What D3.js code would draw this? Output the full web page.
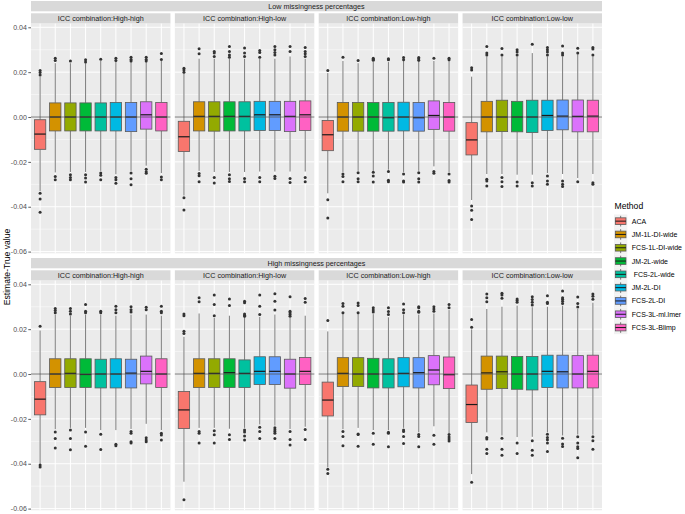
<!DOCTYPE html>
<html>
<head>
<meta charset="utf-8">
<script src="https://cdn.jsdelivr.net/npm/d3@7"></script>
<style>
  body { margin: 0; background: #fff; }
  text { font-family: "Liberation Sans", Arial, sans-serif; }
</style>
</head>
<body>
<div id="chart"></div>
<script>
// metodos y colores (paleta hue de ggplot)
const methods = ["ACA", "JM-1L-DI-wide", "FCS-1L-DI-wide", "JM-2L-wide", " FCS-2L-wide",
                 "JM-2L-DI", "FCS-2L-DI", "FCS-3L-ml.lmer", "FCS-3L-Blimp"]
const colours = ["#F8766D", "#D39200", "#93AA00", "#00BA38", "#00C19F",
                 "#00B9E3", "#619CFF", "#DB72FB", "#FF61C3"]

const rowLabels = ["Low missingness percentages", "High missingness percentages"]
const iccLabels = ["ICC combination:High-high", "ICC combination:High-low",
                   "ICC combination:Low-high", "ICC combination:Low-low"]
const yTicks = [-0.06, -0.04, -0.02, 0, 0.02, 0.04]
const yMinor = [-0.05, -0.03, -0.01, 0.01, 0.03]

// cajas: [bigote inf, q1, mediana, q3, bigote sup] por metodo
const lowHH = [[-0.033,-0.0144,-0.0076,-0.0012,0.018],[-0.0247,-0.0062,0,0.0063,0.024],[-0.0245,-0.0062,0,0.0063,0.024],
  [-0.0245,-0.0062,0,0.0063,0.024],[-0.024,-0.0062,0,0.0063,0.025],[-0.0255,-0.0062,0,0.0065,0.025],
  [-0.024,-0.0065,0,0.0065,0.025],[-0.0217,-0.0054,0.001,0.0068,0.025],[-0.025,-0.0062,0,0.0065,0.025]]
const lowHHOut = [[0.0187,0.0198,0.0207,-0.034,-0.0365,-0.0425],[0.0252,0.0262,-0.0265,-0.028],[0.025,-0.0257,-0.027,-0.028],
  [0.0245,0.0255,-0.0257,-0.0272,-0.029],[0.0258,-0.025,-0.026,-0.028],[0.0252,0.0262,-0.027,-0.028,-0.0295],
  [0.025,0.0257,0.0267,-0.025,-0.0275,-0.0302],[0.025,0.0257,0.0267,-0.0233,-0.0244,-0.0251],[0.0257,0.0283,-0.0267,-0.028]]

const lowHL = [[-0.035,-0.0154,-0.0088,-0.0019,0.0195],[-0.024,-0.0062,0.0003,0.0068,0.026],[-0.0245,-0.0063,0.0003,0.0068,0.026],
  [-0.0245,-0.0062,0.0003,0.0068,0.026],[-0.0245,-0.0062,0.0003,0.0068,0.026],[-0.0243,-0.006,0.001,0.007,0.026],
  [-0.0243,-0.006,0.001,0.007,0.026],[-0.0243,-0.0065,0.0003,0.007,0.027],[-0.0243,-0.006,0.001,0.0072,0.026]]
const lowHLOut = [[0.02,0.021,0.0217,-0.036,-0.0415],[0.0282,0.0304,-0.0252,-0.0262,-0.0288],[0.027,0.0285,0.0292,-0.027,-0.0294],
  [0.0267,0.0277,0.0292,0.0315,-0.0257,-0.0275,-0.0287],[0.027,0.0285,0.0308,-0.0274,-0.0288],[0.0267,0.0288,0.0297,-0.027,-0.0288],
  [0.0277,0.0288,0.03,0.0315,-0.0264,-0.0274],[0.0292,0.0315,-0.0274,-0.0292],[0.027,0.0282,0.0292,0.031,-0.027,-0.0288]]

const lowLH = [[-0.034,-0.015,-0.0079,-0.0015,0.0196],[-0.0245,-0.0063,0,0.0065,0.025],[-0.024,-0.0063,0,0.0065,0.024],
  [-0.024,-0.0063,0,0.0065,0.0245],[-0.0235,-0.0063,-0.0003,0.0065,0.0245],[-0.0245,-0.0062,0,0.0066,0.025],
  [-0.024,-0.0063,-0.0003,0.0065,0.025],[-0.022,-0.0055,0.0007,0.0072,0.025],[-0.0245,-0.0063,0,0.0065,0.025]]
const lowLHOut = [[0.0207,-0.0369,-0.045],[0.0267,-0.0254,-0.0265,-0.0288],[0.0252,-0.0248,-0.0275,-0.0288],
  [0.0253,0.0258,0.0262,-0.0246,-0.0263,-0.029],[0.0255,0.026,-0.0243,-0.0282,-0.0288],[0.0255,0.0265,-0.0254,-0.0285,-0.029],
  [0.0253,0.026,0.0265,-0.0248,-0.0275,-0.029],[0.0262,-0.0243,-0.0251],[0.0255,0.0262,-0.0254,-0.0283,-0.029]]

const lowLL = [[-0.037,-0.0169,-0.0102,-0.0025,0.018],[-0.0254,-0.0066,0,0.007,0.027],[-0.0254,-0.0065,0,0.0075,0.027],
  [-0.0257,-0.0066,0,0.007,0.027],[-0.0257,-0.0069,0,0.0075,0.0285],[-0.025,-0.006,0.0007,0.0075,0.027],
  [-0.0254,-0.0057,0.0004,0.0076,0.027],[-0.0272,-0.0066,0.0003,0.0076,0.028],[-0.0254,-0.0066,0.0004,0.0075,0.027]]
const lowLLOut = [[0.021,0.022,-0.0397,-0.0416,-0.0457],[0.0277,0.0285,0.0315,-0.0277,-0.0285,-0.0307],[0.0276,0.0306,-0.027,-0.0288,-0.031],
  [0.0277,0.029,0.03,-0.029,-0.0307],[0.0324,-0.0293,-0.0307],[0.0276,0.029,0.03,0.031,-0.0263,-0.0285,-0.03],
  [0.0277,0.0285,0.0317,-0.0285,-0.03,-0.031],[0.0285,0.0307,-0.0288],[0.0277,0.0303,0.031,-0.0293,-0.03]]

const highHH = [[-0.04,-0.0182,-0.0112,-0.0034,0.0194],[-0.0246,-0.006,0,0.0068,0.0265],[-0.024,-0.006,0.0003,0.0068,0.026],
  [-0.024,-0.006,-0.0002,0.0068,0.0265],[-0.025,-0.0062,0,0.0066,0.0265],[-0.025,-0.0062,0,0.0068,0.026],
  [-0.0245,-0.0062,0.0004,0.0066,0.0265],[-0.0222,-0.0044,0.0012,0.008,0.0265],[-0.025,-0.006,0,0.0068,0.026]]
const highHHOut = [[0.0213,-0.0406,-0.0415],[0.0273,0.0283,0.0292,-0.0258,-0.0287,-0.033],[0.0268,0.028,0.0292,-0.025,-0.0287,-0.0338],
  [0.0273,0.028,0.031,-0.0258,-0.0322],[0.0273,0.028,-0.0269,-0.0336],[0.0273,0.0287,0.0302,-0.0313,-0.032],
  [0.0277,0.0287,0.03,-0.0256,-0.0264,-0.0302,-0.0308],[0.0287,0.0298,-0.0284,-0.0294,-0.0302],[0.0273,0.028,0.0302,-0.0264,-0.0272,-0.0294]]

const highHL = [[-0.048,-0.0243,-0.016,-0.0078,0.0166],[-0.024,-0.006,0.0003,0.0068,0.027],[-0.024,-0.006,0.0003,0.0068,0.025],
  [-0.0244,-0.006,0.0006,0.0068,0.026],[-0.024,-0.006,0.0003,0.0063,0.0255],[-0.0225,-0.0047,0.0012,0.0077,0.0255],
  [-0.023,-0.0047,0.0012,0.0077,0.0265],[-0.0245,-0.0063,0,0.0066,0.025],[-0.0235,-0.0047,0.0012,0.0074,0.026]]
const highHLOut = [[0.0181,0.0191,0.026,0.0268,-0.0561],[0.0322,0.034,-0.0256,-0.0264,-0.0308],[0.026,0.031,0.0352,-0.0253,-0.0271,-0.0308],
  [0.0305,0.0335,-0.0271,-0.0292],[0.0258,0.0262,0.0268,0.0318,0.0325,-0.025,-0.0258,-0.0276,-0.0294],[0.0265,0.0302,0.0352,-0.0237,-0.0256,-0.0287],
  [0.0285,0.0325,0.0358,-0.024,-0.0248,-0.0256,-0.0264,-0.0287],[0.0258,0.0265,0.0273,0.028,0.0345,-0.0256,-0.0292,-0.0316],[0.032,0.0337,-0.0247,-0.0292]]

const highLH = [[-0.0416,-0.0187,-0.0116,-0.0036,0.019],[-0.0246,-0.0056,0.0003,0.0073,0.027],[-0.024,-0.0056,0,0.0073,0.027],
  [-0.025,-0.0062,0,0.007,0.0267],[-0.025,-0.0062,0,0.0068,0.0253],[-0.024,-0.0057,0.0003,0.0073,0.0265],
  [-0.026,-0.0062,0.0006,0.0073,0.0265],[-0.0233,-0.0048,0.0018,0.0082,0.027],[-0.0263,-0.0065,-0.0003,0.0076,0.0285]]
const highLHOut = [[0.0239,-0.0424,-0.0443],[0.0273,0.0302,0.0314,-0.0256,-0.0278,-0.032],[0.0273,0.0305,0.0317,-0.0267,-0.027,-0.0322],
  [0.0277,0.0285,0.0296,-0.0264,-0.0313],[0.0265,0.0279,0.0296,-0.026,-0.0264,-0.0324],[0.0273,0.0287,0.0312,-0.0249,-0.0256,-0.0278,-0.031],
  [0.0275,0.028,0.0296,0.03,-0.027,-0.0278,-0.0324],[0.028,0.029,0.03,-0.0273,-0.0313],[0.0295,0.031,-0.027,-0.0281,-0.029,-0.0299]]

const highLL = [[-0.0446,-0.0216,-0.0136,-0.0049,0.0199],[-0.026,-0.0068,0.0005,0.008,0.029],[-0.0274,-0.0065,0.001,0.008,0.03],
  [-0.0281,-0.0068,0,0.0078,0.0305],[-0.028,-0.0071,0,0.0078,0.0298],[-0.026,-0.006,0.0012,0.0084,0.03],
  [-0.0274,-0.0062,0.001,0.0084,0.0305],[-0.027,-0.0062,0,0.0082,0.029],[-0.027,-0.0062,0.0012,0.0084,0.0318]]
const highLLOut = [[0.0209,0.0243,-0.0483],[0.0322,0.034,0.0357,-0.0283,-0.029,-0.0335,-0.0354],[0.0338,0.0352,0.036,-0.0286,-0.0335,-0.0362],
  [0.032,0.0328,0.0335,-0.0308,-0.0354],[0.0308,0.032,0.0332,0.0345,-0.0298,-0.034,-0.0362],[0.0315,0.032,0.0349,-0.0268,-0.0283,-0.0293,-0.0308,-0.0345],
  [0.0315,0.0325,0.0333,0.034,0.037,-0.0286,-0.0312,-0.0323],[0.0299,0.0314,0.0343,-0.028,-0.0308,-0.0324,-0.0332,-0.0373],[0.0333,0.0347,0.0357,-0.028,-0.0298,-0.0335]]

// ----------------------------------------------------------

const width = 685
const height = 514
const panelsLeft = 31
const panelsRight = 602
const gap = 4.4
const stripH = 10.3
const rowTops = [1, 258]
const plotH = 229.7
const panelW = (panelsRight - panelsLeft - 3 * gap) / 4

const boxes = [[lowHH, lowHL, lowLH, lowLL], [highHH, highHL, highLH, highLL]]
const outs = [[lowHHOut, lowHLOut, lowLHOut, lowLLOut], [highHHOut, highHLOut, highLHOut, highLLOut]]

const svg = d3.select("div#chart").append("svg")
    .attr("width", width)
    .attr("height", height)

// escala y comun, con 5% de expansion como ggplot
const allVals = boxes.flat(3).concat(outs.flat(3))
const [vMin, vMax] = d3.extent(allVals)
const pad = (vMax - vMin) * 0.05
const scaleY = d3.scaleLinear().domain([vMin - pad, vMax + pad]).range([plotH, 0])

const scaleX = d3.scaleBand().domain(methods).range([0, panelW]).paddingInner(0).paddingOuter(0.1)
const step = scaleX.step()
const boxW = step * 0.75
const cx = m => scaleX(m) + step / 2

rowLabels.forEach((rowLabel, r) => {
    const top = rowTops[r]
    // tira exterior
    svg.append("rect")
        .attr("x", panelsLeft).attr("y", top)
        .attr("width", panelsRight - panelsLeft).attr("height", stripH)
        .attr("fill", "#D9D9D9")
    svg.append("text").text(rowLabel)
        .attr("x", (panelsLeft + panelsRight) / 2).attr("y", top + stripH / 2 + 2.5)
        .attr("text-anchor", "middle").attr("font-size", 7.2).attr("fill", "#1A1A1A")

    const plotTop = top + stripH * 2 + 2

    // eje y
    const yAxisGroup = svg.append("g")
        .attr("transform", `translate(${panelsLeft} ${plotTop})`)
        .call(d3.axisLeft(scaleY).tickValues(yTicks).tickSize(2.7).tickPadding(1.5)
            .tickFormat(d => d.toFixed(2)))
    yAxisGroup.select(".domain").remove()
    yAxisGroup.selectAll(".tick line").attr("stroke", "#333333").attr("stroke-width", 0.8)
    yAxisGroup.selectAll(".tick text").attr("fill", "#4D4D4D").attr("font-size", 7)
        .style("font-family", "Liberation Sans, Arial, sans-serif")

    iccLabels.forEach((icc, c) => {
        const x0 = panelsLeft + c * (panelW + gap)
        const g = svg.append("g").attr("transform", `translate(${x0} ${top + stripH + 2})`)

        g.append("rect").attr("width", panelW).attr("height", stripH).attr("fill", "#D9D9D9")
        g.append("text").text(icc)
            .attr("x", panelW / 2).attr("y", stripH / 2 + 2.5)
            .attr("text-anchor", "middle").attr("font-size", 7.2).attr("fill", "#1A1A1A")

        const p = svg.append("g").attr("transform", `translate(${x0} ${plotTop})`)
        p.append("rect").attr("width", panelW).attr("height", plotH).attr("fill", "#EBEBEB")

        // rejilla
        p.selectAll(".minor").data(yMinor).enter().append("line")
            .attr("x1", 0).attr("x2", panelW)
            .attr("y1", d => scaleY(d)).attr("y2", d => scaleY(d))
            .attr("stroke", "#fff").attr("stroke-width", 0.5)
        p.selectAll(".major").data(yTicks).enter().append("line")
            .attr("x1", 0).attr("x2", panelW)
            .attr("y1", d => scaleY(d)).attr("y2", d => scaleY(d))
            .attr("stroke", "#fff").attr("stroke-width", 1)
        p.selectAll(".vgrid").data(methods).enter().append("line")
            .attr("x1", d => cx(d)).attr("x2", d => cx(d))
            .attr("y1", 0).attr("y2", plotH)
            .attr("stroke", "#fff").attr("stroke-width", 1)

        const stats = boxes[r][c]
        const outliers = outs[r][c]
        const data = methods.map((m, i) => ({ m: m, s: stats[i], o: outliers[i], col: colours[i] }))

        const bx = p.selectAll(".box").data(data).enter().append("g")

        // bigotes
        bx.append("line")
            .attr("x1", d => cx(d.m)).attr("x2", d => cx(d.m))
            .attr("y1", d => scaleY(d.s[4])).attr("y2", d => scaleY(d.s[3]))
            .attr("stroke", "#5A5A5A").attr("stroke-width", 0.8)
        bx.append("line")
            .attr("x1", d => cx(d.m)).attr("x2", d => cx(d.m))
            .attr("y1", d => scaleY(d.s[1])).attr("y2", d => scaleY(d.s[0]))
            .attr("stroke", "#5A5A5A").attr("stroke-width", 0.8)
        // caja
        bx.append("rect")
            .attr("x", d => cx(d.m) - boxW / 2)
            .attr("y", d => scaleY(d.s[3]))
            .attr("width", boxW)
            .attr("height", d => scaleY(d.s[1]) - scaleY(d.s[3]))
            .attr("fill", d => d.col)
            .attr("stroke", "#5A5A5A").attr("stroke-width", 0.8)
        // mediana
        bx.append("line")
            .attr("x1", d => cx(d.m) - boxW / 2).attr("x2", d => cx(d.m) + boxW / 2)
            .attr("y1", d => scaleY(d.s[2])).attr("y2", d => scaleY(d.s[2]))
            .attr("stroke", "#1A1A1A").attr("stroke-width", 1.2)
        // atipicos
        bx.selectAll("circle").data(d => d.o.map(v => ({ m: d.m, v: v }))).enter().append("circle")
            .attr("cx", d => cx(d.m)).attr("cy", d => scaleY(d.v))
            .attr("r", 1.5).attr("fill", "#333333")

        // linea en cero
        p.append("line")
            .attr("x1", 0).attr("x2", panelW)
            .attr("y1", scaleY(0)).attr("y2", scaleY(0))
            .attr("stroke", "#555555").attr("stroke-width", 0.8)
    })
})

// titulo del eje y
svg.append("text").text("Estimate-True value")
    .attr("transform", `translate(9.5 ${267}) rotate(-90)`)
    .attr("text-anchor", "middle").attr("font-size", 8.6).attr("fill", "#000")

// leyenda
const legend = svg.append("g").attr("transform", "translate(614 0)")
legend.append("text").text("Method").attr("x", 0.5).attr("y", 209).attr("font-size", 8.6)
const keySize = 13.3
const keys = legend.selectAll(".key").data(methods).enter().append("g")
    .attr("transform", (d, i) => `translate(0 ${214.5 + i * keySize})`)
keys.append("rect").attr("width", keySize).attr("height", keySize).attr("fill", "#F2F2F2")
keys.append("line").attr("x1", keySize / 2).attr("x2", keySize / 2)
    .attr("y1", keySize * 0.1).attr("y2", keySize * 0.9)
    .attr("stroke", "#5A5A5A").attr("stroke-width", 0.8)
keys.append("rect")
    .attr("x", keySize * 0.1).attr("y", keySize * 0.25)
    .attr("width", keySize * 0.8).attr("height", keySize * 0.5)
    .attr("fill", (d, i) => colours[i]).attr("stroke", "#5A5A5A").attr("stroke-width", 0.8)
keys.append("line").attr("x1", keySize * 0.1).attr("x2", keySize * 0.9)
    .attr("y1", keySize / 2).attr("y2", keySize / 2)
    .attr("stroke", "#1A1A1A").attr("stroke-width", 1)
keys.append("text").text(d => d)
    .attr("x", keySize + 4.5).attr("y", keySize / 2 + 2.5)
    .attr("font-size", 7).attr("fill", "#000")
    .style("white-space", "pre")
</script>
</body>
</html>
